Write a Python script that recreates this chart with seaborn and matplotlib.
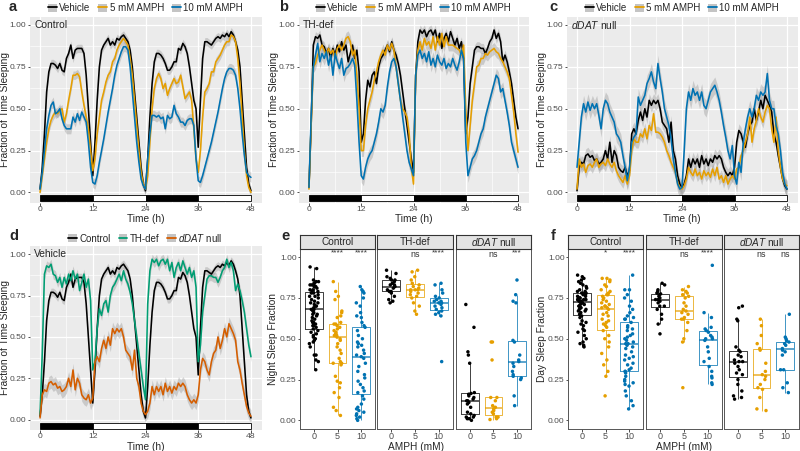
import numpy as np
import pandas as pd
import matplotlib
matplotlib.use("Agg")
import matplotlib.pyplot as plt
import seaborn as sns
from matplotlib.patches import Patch, Rectangle
from matplotlib.lines import Line2D

# ---------------- data ----------------
time_h = np.arange(0, 48.5, 0.5)

a_vehicle = [0.02, 0.15, 0.35, 0.60, 0.72, 0.77, 0.77, 0.76, 0.74, 0.77, 0.73, 0.72, 0.80, 0.83, 0.88, 0.80, 0.85, 0.86, 0.86, 0.86, 0.83, 0.70, 0.50, 0.30,
             0.10, 0.30, 0.55, 0.75, 0.85, 0.88, 0.90, 0.92, 0.88, 0.90, 0.88, 0.92, 0.91, 0.93, 0.94, 0.92, 0.90, 0.85, 0.75, 0.60, 0.45, 0.30, 0.15, 0.05,
             0.01, 0.20, 0.45, 0.65, 0.78, 0.83, 0.83, 0.82, 0.80, 0.77, 0.73, 0.73, 0.75, 0.78, 0.78, 0.86, 0.85, 0.89, 0.87, 0.83, 0.75, 0.65, 0.55, 0.50,
             0.27, 0.55, 0.80, 0.90, 0.90, 0.89, 0.88, 0.90, 0.92, 0.93, 0.92, 0.94, 0.93, 0.95, 0.93, 0.96, 0.94, 0.90, 0.85, 0.75, 0.55, 0.35, 0.15, 0.05, 0.01]
a_5mM = [0.00, 0.10, 0.20, 0.30, 0.38, 0.43, 0.46, 0.48, 0.47, 0.49, 0.50, 0.42, 0.47, 0.55, 0.62, 0.70, 0.70, 0.71, 0.69, 0.60, 0.52, 0.45, 0.38, 0.25,
         0.13, 0.20, 0.35, 0.45, 0.55, 0.60, 0.66, 0.70, 0.72, 0.78, 0.80, 0.85, 0.88, 0.90, 0.92, 0.90, 0.88, 0.80, 0.70, 0.55, 0.40, 0.25, 0.12, 0.05,
         0.02, 0.10, 0.30, 0.50, 0.62, 0.68, 0.71, 0.68, 0.62, 0.65, 0.58, 0.62, 0.65, 0.68, 0.65, 0.66, 0.70, 0.63, 0.56, 0.58, 0.60, 0.55, 0.38, 0.20,
         0.12, 0.25, 0.45, 0.60, 0.62, 0.65, 0.72, 0.72, 0.78, 0.80, 0.82, 0.85, 0.88, 0.90, 0.90, 0.94, 0.93, 0.90, 0.80, 0.65, 0.45, 0.25, 0.10, 0.03, 0.00]
a_10mM = [0.02, 0.12, 0.25, 0.38, 0.46, 0.52, 0.54, 0.47, 0.48, 0.50, 0.44, 0.40, 0.38, 0.38, 0.38, 0.45, 0.42, 0.47, 0.43, 0.48, 0.45, 0.42, 0.30, 0.15,
          0.06, 0.05, 0.10, 0.18, 0.25, 0.32, 0.40, 0.48, 0.55, 0.62, 0.70, 0.76, 0.80, 0.84, 0.87, 0.87, 0.85, 0.75, 0.60, 0.45, 0.30, 0.18, 0.08, 0.04,
          0.02, 0.20, 0.35, 0.46, 0.46, 0.45, 0.46, 0.44, 0.45, 0.38, 0.46, 0.44, 0.45, 0.52, 0.47, 0.45, 0.42, 0.42, 0.40, 0.43, 0.44, 0.44, 0.40, 0.20,
          0.07, 0.06, 0.10, 0.15, 0.20, 0.25, 0.30, 0.36, 0.42, 0.48, 0.55, 0.62, 0.68, 0.72, 0.74, 0.74, 0.73, 0.70, 0.62, 0.50, 0.35, 0.22, 0.12, 0.10, 0.09]

b_vehicle = [0.03, 0.40, 0.88, 0.93, 0.92, 0.94, 0.88, 0.87, 0.83, 0.86, 0.80, 0.86, 0.82, 0.88, 0.84, 0.90, 0.85, 0.88, 0.78, 0.83, 0.88, 0.80, 0.85, 0.72,
             0.30, 0.35, 0.55, 0.67, 0.63, 0.70, 0.72, 0.65, 0.75, 0.80, 0.82, 0.85, 0.88, 0.84, 0.90, 0.85, 0.82, 0.77, 0.70, 0.60, 0.50, 0.40, 0.30, 0.20,
             0.12, 0.70, 0.90, 0.97, 0.95, 0.97, 0.93, 0.96, 0.97, 0.94, 0.97, 0.90, 0.95, 0.86, 0.92, 0.95, 0.90, 0.96, 0.92, 0.88, 0.92, 0.86, 0.90, 0.80,
             0.35, 0.45, 0.65, 0.75, 0.85, 0.87, 0.87, 0.86, 0.86, 0.83, 0.86, 0.90, 0.92, 0.97, 0.92, 0.95, 0.90, 0.78, 0.82, 0.78, 0.72, 0.65, 0.55, 0.45, 0.38]
b_5mM = [0.02, 0.40, 0.75, 0.77, 0.82, 0.85, 0.88, 0.85, 0.82, 0.86, 0.83, 0.85, 0.80, 0.86, 0.88, 0.85, 0.88, 0.92, 0.93, 0.90, 0.82, 0.85, 0.70, 0.50,
         0.25, 0.25, 0.40, 0.50, 0.55, 0.60, 0.67, 0.72, 0.78, 0.82, 0.85, 0.82, 0.88, 0.85, 0.89, 0.85, 0.75, 0.65, 0.55, 0.50, 0.48, 0.45, 0.35, 0.15,
         0.05, 0.70, 0.85, 0.90, 0.85, 0.92, 0.88, 0.90, 0.86, 0.93, 0.85, 0.93, 0.88, 0.95, 0.87, 0.93, 0.88, 0.88, 0.88, 0.87, 0.86, 0.85, 0.82, 0.88,
         0.50, 0.25, 0.40, 0.55, 0.65, 0.75, 0.76, 0.80, 0.80, 0.83, 0.82, 0.84, 0.85, 0.86, 0.84, 0.83, 0.80, 0.78, 0.75, 0.72, 0.68, 0.58, 0.48, 0.35, 0.24]
b_10mM = [0.03, 0.45, 0.75, 0.82, 0.89, 0.78, 0.83, 0.80, 0.84, 0.76, 0.82, 0.70, 0.83, 0.78, 0.74, 0.80, 0.70, 0.74, 0.75, 0.77, 0.80, 0.76, 0.55, 0.30,
          0.10, 0.08, 0.15, 0.20, 0.23, 0.25, 0.30, 0.35, 0.42, 0.50, 0.48, 0.52, 0.63, 0.72, 0.78, 0.80, 0.75, 0.65, 0.55, 0.45, 0.35, 0.25, 0.18, 0.14,
          0.10, 0.70, 0.82, 0.85, 0.80, 0.83, 0.78, 0.84, 0.76, 0.80, 0.75, 0.82, 0.78, 0.76, 0.80, 0.74, 0.77, 0.75, 0.80, 0.76, 0.73, 0.78, 0.85, 0.80,
          0.30, 0.10, 0.15, 0.20, 0.22, 0.25, 0.30, 0.35, 0.38, 0.45, 0.50, 0.55, 0.60, 0.65, 0.70, 0.68, 0.60, 0.62, 0.55, 0.48, 0.40, 0.30, 0.25, 0.20, 0.15]

c_vehicle = [0.01, 0.15, 0.18, 0.17, 0.22, 0.23, 0.21, 0.22, 0.19, 0.20, 0.17, 0.18, 0.20, 0.25, 0.20, 0.30, 0.18, 0.25, 0.22, 0.15, 0.13, 0.12, 0.15, 0.10,
             0.13, 0.35, 0.38, 0.35, 0.43, 0.48, 0.43, 0.50, 0.45, 0.55, 0.52, 0.55, 0.53, 0.55, 0.50, 0.42, 0.40, 0.38, 0.30, 0.42, 0.25, 0.20, 0.10, 0.05,
             0.03, 0.05, 0.10, 0.20, 0.15, 0.20, 0.17, 0.20, 0.15, 0.22, 0.17, 0.20, 0.16, 0.20, 0.18, 0.22, 0.20, 0.22, 0.20, 0.15, 0.12, 0.10, 0.12, 0.10,
             0.15, 0.30, 0.37, 0.35, 0.30, 0.27, 0.35, 0.40, 0.42, 0.50, 0.43, 0.48, 0.55, 0.50, 0.58, 0.55, 0.52, 0.48, 0.35, 0.30, 0.22, 0.15, 0.08, 0.04, 0.02]
c_5mM = [0.02, 0.20, 0.15, 0.17, 0.12, 0.16, 0.17, 0.15, 0.18, 0.20, 0.15, 0.17, 0.18, 0.16, 0.20, 0.17, 0.15, 0.18, 0.13, 0.10, 0.08, 0.06, 0.10, 0.05,
         0.10, 0.25, 0.32, 0.30, 0.30, 0.35, 0.33, 0.38, 0.32, 0.40, 0.37, 0.47, 0.36, 0.36, 0.35, 0.33, 0.30, 0.25, 0.22, 0.18, 0.15, 0.12, 0.06, 0.03,
         0.02, 0.04, 0.08, 0.15, 0.12, 0.10, 0.14, 0.10, 0.12, 0.08, 0.13, 0.10, 0.12, 0.09, 0.14, 0.10, 0.15, 0.08, 0.10, 0.06, 0.10, 0.05, 0.08, 0.10,
         0.08, 0.14, 0.15, 0.22, 0.25, 0.30, 0.35, 0.45, 0.30, 0.38, 0.43, 0.50, 0.45, 0.42, 0.48, 0.52, 0.50, 0.38, 0.30, 0.45, 0.25, 0.15, 0.08, 0.05, 0.04]
c_10mM = [0.15, 0.30, 0.45, 0.53, 0.48, 0.54, 0.49, 0.53, 0.50, 0.53, 0.46, 0.38, 0.50, 0.55, 0.53, 0.48, 0.45, 0.42, 0.35, 0.33, 0.30, 0.22, 0.15, 0.07,
          0.15, 0.30, 0.33, 0.35, 0.57, 0.52, 0.55, 0.58, 0.65, 0.68, 0.72, 0.66, 0.62, 0.77, 0.68, 0.60, 0.50, 0.45, 0.40, 0.32, 0.20, 0.12, 0.05, 0.02,
          0.03, 0.25, 0.50, 0.60, 0.55, 0.62, 0.58, 0.60, 0.55, 0.60, 0.52, 0.50, 0.55, 0.60, 0.62, 0.64, 0.60, 0.55, 0.48, 0.40, 0.33, 0.25, 0.20, 0.28,
          0.10, 0.05, 0.18, 0.12, 0.30, 0.38, 0.45, 0.50, 0.45, 0.50, 0.58, 0.55, 0.60, 0.58, 0.60, 0.71, 0.55, 0.50, 0.50, 0.40, 0.35, 0.25, 0.12, 0.05, 0.02]

# SEM ribbon half-widths per series (Vehicle, 5 mM, 10 mM)
a_sem = [0.025, 0.025, 0.03]
b_sem = [0.03, 0.035, 0.04]
c_sem = [0.04, 0.035, 0.05]

amph_labels = ["Vehicle", "5 mM AMPH", "10 mM AMPH"]
geno_labels = ["Control", "TH-def", r"$\mathit{dDAT}$ null"]
dose_labels = ["0", "5", "10"]

# Night sleep fraction (panel e)
e_control_0 = [0.94, 0.93, 0.86, 0.85, 0.85, 0.84, 0.84, 0.83, 0.83, 0.82, 0.82, 0.81, 0.80, 0.80, 0.79, 0.79, 0.78, 0.78, 0.77, 0.76, 0.76, 0.75,
               0.74, 0.73, 0.72, 0.72, 0.71, 0.70, 0.70, 0.69, 0.68, 0.68, 0.67, 0.66, 0.65, 0.65, 0.64, 0.63, 0.62, 0.61, 0.60, 0.60, 0.59, 0.58,
               0.58, 0.57, 0.56, 0.55, 0.54, 0.53, 0.52, 0.51, 0.50, 0.49, 0.48, 0.47, 0.45, 0.40, 0.40, 0.37, 0.36, 0.31]
e_control_5 = [0.85, 0.79, 0.76, 0.74, 0.67, 0.66, 0.64, 0.63, 0.60, 0.59, 0.59, 0.58, 0.57, 0.56, 0.55, 0.54, 0.53, 0.53, 0.52, 0.52, 0.51,
               0.50, 0.49, 0.47, 0.45, 0.43, 0.41, 0.38, 0.36, 0.35, 0.35, 0.34, 0.27, 0.24, 0.23, 0.20, 0.17, 0.14, 0.08, 0.06, 0.03]
e_control_10 = [0.82, 0.80, 0.79, 0.78, 0.75, 0.72, 0.70, 0.66, 0.64, 0.63, 0.60, 0.58, 0.57, 0.55, 0.52, 0.50, 0.48, 0.47, 0.46, 0.45, 0.43,
                0.41, 0.40, 0.39, 0.38, 0.35, 0.33, 0.30, 0.28, 0.26, 0.24, 0.22, 0.20, 0.18, 0.17, 0.15, 0.13, 0.10, 0.08, 0.07, 0.06, 0.05,
                0.04, 0.03, 0.02, 0.01, 0.00]
e_thdef_0 = [0.92, 0.90, 0.88, 0.87, 0.86, 0.86, 0.85, 0.84, 0.83, 0.83, 0.82, 0.82, 0.81, 0.80, 0.79, 0.79, 0.78, 0.76, 0.74, 0.73, 0.72]
e_thdef_5 = [0.92, 0.91, 0.88, 0.86, 0.84, 0.83, 0.82, 0.81, 0.80, 0.80, 0.80, 0.79, 0.78, 0.77, 0.76, 0.75, 0.72, 0.70, 0.67, 0.65]
e_thdef_10 = [0.84, 0.83, 0.80, 0.78, 0.76, 0.75, 0.74, 0.73, 0.73, 0.72, 0.72, 0.71, 0.70, 0.69, 0.68, 0.67, 0.66, 0.65, 0.64, 0.36]
e_ddat_0 = [0.71, 0.57, 0.42, 0.40, 0.35, 0.17, 0.165, 0.16, 0.15, 0.14, 0.13, 0.12, 0.12, 0.11, 0.10, 0.08, 0.05, 0.04, 0.03, 0.02, 0.02,
            0.01, 0.01, 0.00]
e_ddat_5 = [0.48, 0.48, 0.37, 0.14, 0.14, 0.12, 0.09, 0.08, 0.07, 0.06, 0.05, 0.04, 0.02, 0.02, 0.01, 0.005]
e_ddat_10 = [0.86, 0.77, 0.73, 0.72, 0.49, 0.48, 0.40, 0.37, 0.36, 0.35, 0.33, 0.30, 0.28, 0.27, 0.26, 0.25, 0.15, 0.09]

# Day sleep fraction (panel f)
f_control_0 = [0.89, 0.88, 0.87, 0.86, 0.85, 0.84, 0.83, 0.82, 0.81, 0.80, 0.79, 0.79, 0.78, 0.78, 0.78, 0.77, 0.77, 0.76, 0.76, 0.75, 0.75,
               0.75, 0.74, 0.74, 0.74, 0.74, 0.73, 0.73, 0.73, 0.72, 0.72, 0.71, 0.71, 0.70, 0.70, 0.69, 0.69, 0.68, 0.68, 0.67, 0.67, 0.66,
               0.65, 0.64, 0.63, 0.61, 0.60, 0.59, 0.58, 0.56, 0.55, 0.54, 0.52, 0.50, 0.48, 0.47, 0.46, 0.45]
f_control_5 = [0.87, 0.87, 0.86, 0.85, 0.83, 0.82, 0.80, 0.79, 0.78, 0.77, 0.77, 0.76, 0.75, 0.74, 0.73, 0.72, 0.71, 0.70, 0.70, 0.69, 0.69,
               0.68, 0.66, 0.65, 0.64, 0.62, 0.61, 0.60, 0.59, 0.58, 0.57, 0.55, 0.52, 0.50, 0.48, 0.45, 0.41, 0.37, 0.34, 0.30, 0.27, 0.15]
f_control_10 = [0.89, 0.80, 0.80, 0.77, 0.75, 0.73, 0.70, 0.68, 0.66, 0.64, 0.63, 0.62, 0.62, 0.60, 0.58, 0.57, 0.56, 0.55, 0.53, 0.52, 0.51,
                0.50, 0.49, 0.48, 0.47, 0.47, 0.46, 0.45, 0.44, 0.42, 0.40, 0.39, 0.38, 0.37, 0.35, 0.34, 0.32, 0.31, 0.30, 0.30, 0.29, 0.27,
                0.25, 0.24, 0.23, 0.22, 0.21, 0.18, 0.15, 0.12, 0.09, 0.07]
f_thdef_0 = [0.84, 0.83, 0.80, 0.79, 0.78, 0.775, 0.77, 0.76, 0.75, 0.74, 0.74, 0.73, 0.72, 0.70, 0.70, 0.68, 0.65, 0.62, 0.59, 0.53]
f_thdef_5 = [0.82, 0.80, 0.79, 0.78, 0.77, 0.76, 0.75, 0.72, 0.70, 0.68, 0.67, 0.66, 0.65, 0.63, 0.62, 0.62, 0.60, 0.55, 0.50, 0.48, 0.20]
f_thdef_10 = [0.95, 0.66, 0.63, 0.57, 0.56, 0.55, 0.54, 0.52, 0.51, 0.50, 0.50, 0.49, 0.45, 0.42, 0.38, 0.36, 0.33, 0.30, 0.27, 0.26, 0.23, 0.22]
f_ddat_0 = [0.70, 0.69, 0.62, 0.61, 0.45, 0.43, 0.42, 0.40, 0.39, 0.37, 0.36, 0.36, 0.35, 0.33, 0.31, 0.29, 0.28, 0.25, 0.22, 0.18, 0.15, 0.14, 0.13]
f_ddat_5 = [0.62, 0.58, 0.52, 0.47, 0.44, 0.43, 0.35, 0.30, 0.28, 0.27, 0.25, 0.22, 0.20, 0.19, 0.14, 0.07, 0.06]
f_ddat_10 = [0.65, 0.51, 0.50, 0.49, 0.48, 0.47, 0.46, 0.44, 0.43, 0.42, 0.40, 0.31, 0.31, 0.23, 0.20, 0.17]

e_signif = [["", "****", "****"], ["", "ns", "****"], ["", "ns", "***"]]
f_signif = [["", "*", "****"], ["", "ns", "****"], ["", "ns", "ns"]]

# ---------------- style ----------------
amph_colors = ["#000000", "#E69F00", "#0072B2"]
geno_colors = ["#000000", "#009E73", "#D55E00"]

sns.set_theme(style="white")
plt.rcParams["font.family"] = ["Liberation Sans", "DejaVu Sans"]
plt.rcParams["mathtext.fontset"] = "custom"
plt.rcParams["mathtext.it"] = "Liberation Sans:italic"
plt.rcParams["mathtext.rm"] = "Liberation Sans"

W, H = 800, 451
fig = plt.figure(figsize=(8, 4.51), dpi=100)
fig.patch.set_facecolor("white")

TICK_FS = 6.1
TITLE_FS = 7.3
LEG_FS = 7.0
TXT = "#4D4D4D"


def px_axes(x0, x1, y0, y1):
    return fig.add_axes([x0 / W, 1 - y1 / H, (x1 - x0) / W, (y1 - y0) / H])


def ftext(x, y, s, **kw):
    return fig.text(x / W, 1 - y / H, s, **kw)


def ts_panel(rect, series, sems, colors, labels, inset, ylab_x, xlab_y):
    ax = px_axes(*rect)
    ax.set_facecolor("#EBEBEB")
    df = pd.DataFrame({
        "time": np.tile(time_h, len(series)),
        "value": np.concatenate([np.asarray(s, float) for s in series]),
        "group": np.repeat(labels, len(time_h)),
    })
    for s, se in zip(series, sems):
        s = np.asarray(s, float)
        ax.fill_between(time_h, s - se, s + se, color="#8C8C8C", alpha=0.35, lw=0, zorder=2)
    sns.lineplot(data=df, x="time", y="value", hue="group", hue_order=labels,
                 palette=dict(zip(labels, colors)), errorbar=None, legend=False,
                 linewidth=1.15, ax=ax, zorder=3)
    for start, fc in [(0, "black"), (12, "white"), (24, "black"), (36, "white")]:
        ax.add_patch(Rectangle((start, -0.054), 12, 0.036, facecolor=fc,
                               edgecolor="black", lw=0.6, zorder=4))
    ax.set_xlim(-2.4, 50.4)
    ax.set_ylim(-0.06, 1.05)
    ax.set_xticks([0, 12, 24, 36, 48])
    ax.set_xticks([6, 18, 30, 42], minor=True)
    ax.set_yticks([0, 0.25, 0.5, 0.75, 1.0])
    ax.set_yticklabels(["0.00", "0.25", "0.50", "0.75", "1.00"])
    ax.set_yticks([0.125, 0.375, 0.625, 0.875], minor=True)
    ax.grid(which="major", color="white", lw=0.9)
    ax.grid(which="minor", color="white", lw=0.45)
    ax.set_axisbelow(True)
    for sp in ax.spines.values():
        sp.set_visible(False)
    ax.tick_params(which="major", length=1.8, width=0.6, color="#333333",
                   labelsize=TICK_FS, labelcolor=TXT, pad=0.6, bottom=True, left=True)
    ax.tick_params(which="minor", length=0)
    ax.set_xlabel("")
    ax.set_ylabel("")
    ftext((rect[0] + rect[1]) / 2, xlab_y, "Time (h)", ha="center", va="center", fontsize=TITLE_FS)
    ftext(ylab_x, (rect[2] + rect[3]) / 2, "Fraction of Time Sleeping", ha="center", va="center",
          rotation=90, fontsize=TITLE_FS)
    ax.text(-1.3, 1.0, inset, fontsize=7.4, va="center", ha="left", zorder=5)
    handles = [(Patch(facecolor="#C4C4C4", edgecolor="none"), Line2D([], [], color=c, lw=1.3))
               for c in colors]
    hpx = rect[3] - rect[2]
    ax.legend(handles, labels, loc="center", bbox_to_anchor=(0.5, 1 + 8.5 / hpx), ncol=3,
              frameon=False, fontsize=LEG_FS, handlelength=0.9, handleheight=0.9,
              handletextpad=0.25, columnspacing=0.8, borderpad=0, borderaxespad=0)
    return ax


def box_facet(rect, strip_label, values, signif, first, ylabel, ylab_x):
    x0, x1, y0, y1 = rect
    ax = px_axes(x0, x1, y0, y1)
    df = pd.DataFrame({
        "dose": np.repeat(dose_labels, [len(v) for v in values]),
        "value": np.concatenate([np.asarray(v, float) for v in values]),
    })
    pal = dict(zip(dose_labels, amph_colors))
    sns.boxplot(data=df, x="dose", y="value", hue="dose", order=dose_labels,
                hue_order=dose_labels, palette=pal, fill=False, showfliers=False,
                showcaps=False, width=0.75, linewidth=0.7, legend=False, ax=ax,
                medianprops=dict(linewidth=1.2))
    for art in list(ax.lines) + list(ax.patches):
        art.set_alpha(0.75)
    sns.stripplot(data=df, x="dose", y="value", hue="dose", order=dose_labels,
                  hue_order=dose_labels, palette=pal, jitter=0.2, size=2.5,
                  linewidth=0, legend=False, ax=ax, zorder=4)
    for i, s in enumerate(signif):
        if s:
            yy = 1.028 if "*" in s else 1.015
            ax.text(i, yy, s, ha="center", va="center", fontsize=6.0 if "*" in s else 6.4,
                    color="#333333")
    ax.set_xlim(-0.6, 2.6)
    ax.set_ylim(-0.05, 1.05)
    ax.set_yticks([0, 0.25, 0.5, 0.75, 1.0])
    ax.set_facecolor("white")
    for sp in ax.spines.values():
        sp.set_visible(True)
        sp.set_color("#555555")
        sp.set_linewidth(0.7)
    ax.tick_params(axis="x", length=1.8, width=0.6, color="#333333", labelsize=TICK_FS + 0.4,
                   labelcolor=TXT, pad=0.5, bottom=True)
    if first:
        ax.set_yticklabels(["0.00", "0.25", "0.50", "0.75", "1.00"])
        ax.tick_params(axis="y", length=1.8, width=0.6, color="#333333", labelsize=TICK_FS,
                       labelcolor=TXT, pad=0.6, left=True)
        ftext(ylab_x, (y0 + y1) / 2, ylabel, ha="center", va="center", rotation=90,
              fontsize=TITLE_FS)
    else:
        ax.set_yticklabels([])
        ax.tick_params(axis="y", length=0, left=False)
    ax.set_ylabel("")
    ax.set_xlabel("")
    ax.grid(False)
    # strip header
    st = px_axes(x0, x1, 235, y0)
    st.set_facecolor("#E3E3E3")
    st.set_xticks([])
    st.set_yticks([])
    for sp in st.spines.values():
        sp.set_color("#333333")
        sp.set_linewidth(0.8)
    st.text(0.5, 0.47, strip_label, ha="center", va="center", fontsize=7.2,
            transform=st.transAxes)
    return ax


np.random.seed(7)

# top row
ts_panel((29.5, 261.5, 16.6, 202.5), [a_vehicle, a_5mM, a_10mM], a_sem, amph_colors, amph_labels,
         "Control", 5.5, 219)
ts_panel((298.5, 528.5, 16.6, 202.5), [b_vehicle, b_5mM, b_10mM], b_sem, amph_colors, amph_labels,
         "TH-def", 274, 219)
ts_panel((566.5, 797.5, 16.6, 202.5), [c_vehicle, c_5mM, c_10mM], c_sem, amph_colors, amph_labels,
         r"$\mathit{dDAT}$ null", 542, 219)
# panel d
ts_panel((29.5, 261.5, 246.0, 429.5), [a_vehicle, b_vehicle, c_vehicle],
         [a_sem[0], b_sem[0], c_sem[0]], geno_colors, geno_labels, "Vehicle", 5.5, 446.5)

# panels e, f
e_vals = [[e_control_0, e_control_5, e_control_10], [e_thdef_0, e_thdef_5, e_thdef_10],
          [e_ddat_0, e_ddat_5, e_ddat_10]]
f_vals = [[f_control_0, f_control_5, f_control_10], [f_thdef_0, f_thdef_5, f_thdef_10],
          [f_ddat_0, f_ddat_5, f_ddat_10]]
e_x = [(300, 375), (377, 453), (456, 531)]
f_x = [(568, 643), (646, 722), (724, 799)]
for k in range(3):
    box_facet((e_x[k][0], e_x[k][1], 249, 428.5), geno_labels[k], e_vals[k], e_signif[k], k == 0,
              "Night Sleep Fraction", 273)
    box_facet((f_x[k][0], f_x[k][1], 249, 428.5), geno_labels[k], f_vals[k], f_signif[k], k == 0,
              "Day Sleep Fraction", 542)
ftext(415.5, 446.5, "AMPH (mM)", ha="center", va="center", fontsize=TITLE_FS)
ftext(683.5, 446.5, "AMPH (mM)", ha="center", va="center", fontsize=TITLE_FS)

# panel letters
for letter, (px, py) in zip("abcdef", [(13, 7), (284, 7), (553, 7), (14, 236), (285, 236), (553, 236)]):
    ftext(px, py, letter, ha="center", va="center", fontsize=10.5, fontweight="bold")

fig.savefig("out.png", dpi=100)
